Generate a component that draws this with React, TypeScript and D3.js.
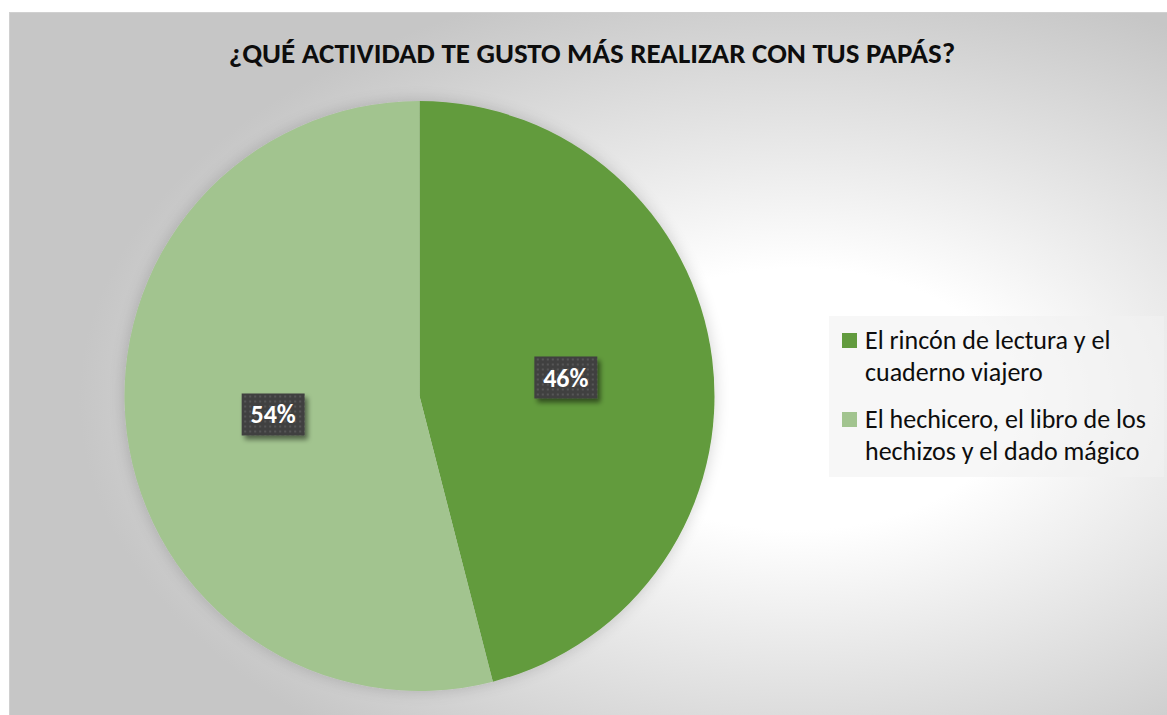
import React from "react";
import * as d3 from "d3";

const title = "¿QUÉ ACTIVIDAD TE GUSTO MÁS REALIZAR CON TUS PAPÁS?";
const categories = [
  ["El rincón de lectura y el", "cuaderno viajero"],
  ["El hechicero, el libro de los", "hechizos y el dado mágico"],
];
const values = [46, 54];
const colors = ["#629B3E", "#A2C48F"];

const W = 1167;
const H = 715;
const FONT = "Carlito, Lato, 'Open Sans', sans-serif";

export default function App() {
  const cx = 419.5;
  const cy = 396;
  const r = 295;
  const pie = d3.pie<number>().sort(null).value((d) => d)(values);
  const arc = d3.arc<d3.PieArcDatum<number>>().innerRadius(0).outerRadius(r);
  const total = d3.sum(values);

  return (
    <svg width={W} height={H} style={{ position: "absolute", left: 0, top: 0 }}>
      <defs>
        <radialGradient id="bg" cx="0.68" cy="0.55" r="0.62">
          <stop offset="0" stopColor="#ffffff" />
          <stop offset="0.3" stopColor="#ffffff" />
          <stop offset="1" stopColor="#c6c6c6" />
        </radialGradient>
        <pattern id="dots" width="5" height="5" patternUnits="userSpaceOnUse">
          <rect width="5" height="5" fill="#404040" />
          <rect x="1" y="1" width="2" height="2" fill="#565656" />
        </pattern>
        <filter id="lblShadow" x="-30%" y="-30%" width="160%" height="170%">
          <feGaussianBlur in="SourceAlpha" stdDeviation="2.5" />
          <feOffset dx="3" dy="4" result="b" />
          <feComponentTransfer>
            <feFuncA type="linear" slope="0.5" />
          </feComponentTransfer>
          <feMerge>
            <feMergeNode />
            <feMergeNode in="SourceGraphic" />
          </feMerge>
        </filter>
        <filter id="pieShadow" x="-20%" y="-20%" width="140%" height="140%">
          <feGaussianBlur in="SourceAlpha" stdDeviation="8" />
          <feComponentTransfer>
            <feFuncA type="linear" slope="0.18" />
          </feComponentTransfer>
          <feMerge>
            <feMergeNode />
            <feMergeNode in="SourceGraphic" />
          </feMerge>
        </filter>
      </defs>
      <rect x={9.5} y={12.5} width={W - 9} height={H - 12} fill="url(#bg)" stroke="#d0d0d0" />
      <text
        x={592}
        y={63}
        textAnchor="middle"
        fontFamily={FONT}
        fontWeight="bold"
        fontSize={29}
        fill="#0d0d0d"
      >
        {title}
      </text>
      <g transform={`translate(${cx},${cy})`} filter="url(#pieShadow)">
        {pie.map((d, i) => (
          <path key={i} d={arc(d) || ""} fill={colors[i]} />
        ))}
      </g>
      <g transform={`translate(${cx},${cy})`}>
        {pie.map((d, i) => {
          const [x, y] = arc.centroid(d);
          const pct = Math.round((d.value / total) * 100) + "%";
          return (
            <g key={i} transform={`translate(${x},${y})`}>
              <rect x={-31.5} y={-21} width={63} height={42} fill="url(#dots)" filter="url(#lblShadow)" />
              <text
                y={9}
                textAnchor="middle"
                fontFamily={FONT}
                fontWeight="bold"
                fontSize={26}
                fill="#ffffff"
              >
                {pct}
              </text>
            </g>
          );
        })}
      </g>
      <rect x={829} y={316} width={335} height={161} fill="#f2f2f2" fillOpacity={0.6} />
      {categories.map((lines, i) => {
        const y0 = 349 + i * 79;
        return (
          <g key={i}>
            <rect x={842} y={y0 - 16} width={15} height={15} fill={colors[i]} />
            {lines.map((t, j) => (
              <text key={j} x={865} y={y0 + j * 32} fontFamily={FONT} fontSize={26} fill="#0d0d0d">
                {t}
              </text>
            ))}
          </g>
        );
      })}
    </svg>
  );
}
